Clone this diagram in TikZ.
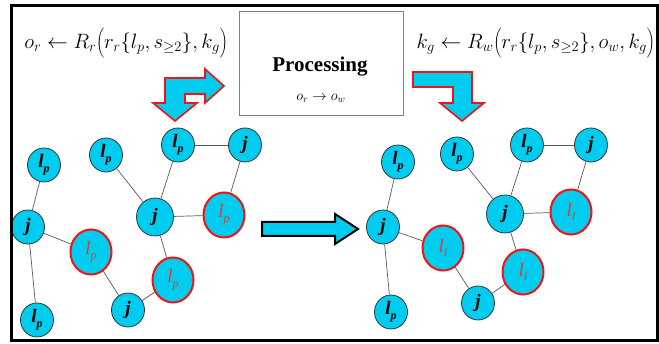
\documentclass[tikz,border=0pt]{standalone}
\usepackage{fontspec}
\setmainfont{Liberation Serif}
\usetikzlibrary{shapes.geometric}
\definecolor{cy}{RGB}{0,204,240}
\definecolor{rd}{RGB}{240,20,20}
\definecolor{rdtxt}{RGB}{225,60,40}
\newcommand\labp{l\raisebox{-0.55ex}{\fontsize{12}{12}\selectfont p}}
\newcommand\labl{l\raisebox{-0.55ex}{\fontsize{12}{12}\selectfont l}}
\newcommand\tallstrut{\vrule height 19pt depth 9pt width 0pt}
\begin{document}
\begin{tikzpicture}[x=1pt,y=-1pt,
  bn/.style={ellipse,draw=black!80,line width=0.8pt,fill=cy,minimum width=33pt,minimum height=34pt,inner sep=0pt,font=\fontsize{19}{19}\selectfont\bfseries\itshape},
  bigj/.style={bn,minimum width=37pt,minimum height=38pt},
  rn/.style={bn,draw=rd,line width=2pt,minimum width=41pt,minimum height=45pt,text=rdtxt,font=\fontsize{19}{19}\selectfont\itshape},
  ed/.style={draw=black!65,line width=0.7pt},
  barrow/.style={fill=cy,draw=rd,line width=1.6pt,line join=miter},
  karrow/.style={fill=cy,draw=black,line width=2pt,line join=miter},
  form/.style={inner sep=0pt,font=\fontsize{22}{22}\selectfont}
]
\useasboundingbox (0,0) rectangle (659,344);
\fill[white] (0,0) rectangle (659,344);

% formulas
\node[form] (f1) at (126,43) {$o_r \leftarrow R_r\!\left(\tallstrut r_r\{l_p,s_{\geq 2}\},k_g\right)$};
\node[form,anchor=east,font=\fontsize{20.5}{22}\selectfont] (f2) at (655,43) {$k_g \leftarrow R_w\!\left(\tallstrut r_r\{l_p,s_{\geq 2}\},o_w,k_g\right)$};

% processing box
\node[draw=black!50,line width=1pt,minimum width=164pt,minimum height=104pt] (proc) at (321,64) {};
\node[font=\bfseries\fontsize{21}{21}\selectfont] (ptxt) at (320,67) {Processing};
\node[font=\fontsize{14}{14}\selectfont] (pform) at (321,98) {$o_r \rightarrow o_w$};

% bent arrows
\draw[barrow] (165,78) -- (205,78) -- (205,69) -- (224,86) -- (205,103) -- (205,94) -- (185,94) -- (185,103) -- (197,103) -- (175,121) -- (153,103) -- (165,103) -- cycle;
\draw[barrow] (413,72) -- (472,72) -- (472,103) -- (484,103) -- (462,121) -- (440,103) -- (453,103) -- (453,87) -- (413,87) -- cycle;
% middle arrow
\draw[karrow] (262,222) -- (335,222) -- (335,214) -- (358,229) -- (335,244) -- (335,236) -- (262,236) -- cycle;

% left graph
\node[bn] (A1) at (44,165) {\labp};
\node[bn] (A2) at (106,155) {\labp};
\node[bn] (A3) at (178,145) {\labp};
\node[bn] (A4) at (245,145) {j};
\node[bn] (A5) at (28,227) {j};
\node[bigj] (A6) at (155,217) {j};
\node[rn] (A7) at (224,215) {\labp};
\node[rn] (A8) at (91,252) {\labp};
\node[rn] (A9) at (173,280) {\labp};
\node[bn] (A10) at (128,310) {j};
\node[bn] (A11) at (37,320) {\labp};
\foreach \a/\b in {A1/A5,A5/A8,A5/A11,A8/A10,A10/A9,A9/A6,A6/A2,A6/A3,A6/A7,A3/A4,A4/A7}
  \draw[ed] (\a) -- (\b);

% right graph
\node[bn] (B1) at (398,162) {\labp};
\node[bn] (B2) at (457,154) {\labp};
\node[bn] (B3) at (527,145) {\labp};
\node[bn] (B4) at (591,145) {j};
\node[bn] (B5) at (383,227) {j};
\node[bigj] (B6) at (505,214) {j};
\node[rn] (B7) at (571,212) {\labl};
\node[rn] (B8) at (443,248) {\labl};
\node[rn] (B9) at (523,272) {\labl};
\node[bn] (B10) at (478,303) {j};
\node[bn] (B11) at (391,312) {\labp};
\foreach \a/\b in {B1/B5,B5/B8,B5/B11,B8/B10,B10/B9,B9/B6,B6/B2,B6/B3,B6/B7,B3/B4,B4/B7}
  \draw[ed] (\a) -- (\b);

% frame
\draw[line width=3pt] (11.5,6) rectangle (657.5,341);
\end{tikzpicture}
\end{document}
